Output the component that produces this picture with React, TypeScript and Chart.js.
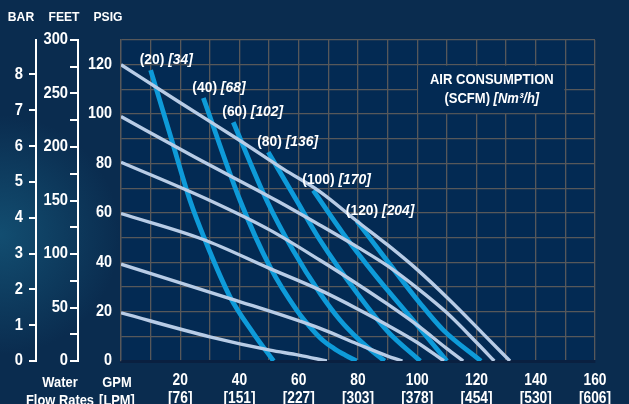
import React, { useEffect, useRef } from "react";
import { Chart, registerables } from "chart.js";
Chart.register(...registerables);

const FONT = "'Liberation Sans', Arial, sans-serif";

// ---- axes ----
const gpmMax = 160;
const psigMax = 130;
const feetMax = 300;
const barMax = 130 / 14.5038;
const gpmTicks = [20, 40, 60, 80, 100, 120, 140, 160];
const lpmTicks = [76, 151, 227, 303, 378, 454, 530, 606];
const psigTicks = [0, 20, 40, 60, 80, 100, 120];
const feetTicks = [0, 50, 100, 150, 200, 250, 300];
const barTicks = [0, 1, 2, 3, 4, 5, 6, 7, 8];

// ---- discharge pressure curves (air inlet pressure, psig) ----
const l120Flow = [0, 20, 40, 55, 67, 80, 90, 100, 111, 122, 131.3];
const l120Head = [120, 104.6, 89.4, 77.6, 68.7, 56.3, 47, 37, 24.6, 11.3, 0];
const l100Flow = [0, 25, 52.5, 67.2, 80, 90, 100, 110, 120, 126];
const l100Head = [99, 82.5, 65, 55, 46, 38.5, 29.5, 19.5, 7.5, 0];
const l80Flow = [0, 30, 50.3, 67.2, 80, 90, 100, 110, 115.5];
const l80Head = [80.5, 65, 53, 40.8, 31, 23, 14.5, 5, 0];
const l60Flow = [0, 27.8, 50.3, 67.2, 80, 90, 100, 109];
const l60Head = [59.7, 49.2, 37.4, 28.7, 21, 14.5, 7.5, 0];
const l40Flow = [0, 36.8, 67.2, 80, 90, 95];
const l40Head = [39.2, 25.3, 13.2, 6.8, 2, 0];
const l20Flow = [0, 30, 50.3, 60, 69.5];
const l20Head = [19.5, 9.8, 4.4, 2.4, 0];

// ---- air consumption curves (SCFM) ----
const b20Flow = [10, 16.5, 23.3, 28.4, 36.8, 44.7, 51.5];
const b20Head = [117.8, 92, 65, 48.9, 26, 11.2, 0];
const b40Flow = [27.8, 40.2, 50.3, 59.3, 64, 68, 72, 76, 79.5];
const b40Head = [106.5, 65, 38.1, 20.6, 13.5, 8.5, 5, 2.2, 0];
const b60Flow = [37.9, 49.2, 58, 67.2, 74, 80, 85, 89];
const b60Head = [96.7, 65, 45, 27.4, 16.5, 9, 3.8, 0];
const b80Flow = [49.7, 59.3, 67.2, 80, 90, 101];
const b80Head = [84.6, 65, 48.9, 27, 12, 0];
const b100Flow = [64.9, 75, 86.3, 97.6, 110];
const b100Head = [69.1, 51.6, 34, 17.9, 0];
const b120Flow = [79.6, 89.7, 101, 108.8, 121.5];
const b120Head = [56.7, 40.8, 23.3, 12.5, 0];

const scfmLabels = [20, 40, 60, 80, 100, 120];
const nm3Labels = [34, 68, 102, 136, 170, 204];

const lightCurves = [
  [l120Flow, l120Head],
  [l100Flow, l100Head],
  [l80Flow, l80Head],
  [l60Flow, l60Head],
  [l40Flow, l40Head],
  [l20Flow, l20Head],
];
const blueCurves = [
  [b20Flow, b20Head],
  [b40Flow, b40Head],
  [b60Flow, b60Head],
  [b80Flow, b80Head],
  [b100Flow, b100Head],
  [b120Flow, b120Head],
];

const OUTER_BG = "#0a2c4f";
const PLOT_BG = "#032a53";
const GRID = "#57585a";
const LIGHT = "#b8cce6";
const BLUE = "#0e9bd9";
const WHITE = "#ffffff";

type Part = [string, boolean];

function txt(
  ctx: CanvasRenderingContext2D,
  parts: Part[],
  x: number,
  y: number,
  size: number,
  align: "left" | "center" | "right",
  sx: number
) {
  const fonts = parts.map(([, it]) => `${it ? "italic " : ""}bold ${size}px ${FONT}`);
  const widths = parts.map(([t], i) => {
    ctx.font = fonts[i];
    return ctx.measureText(t).width;
  });
  const total = widths.reduce((a, b) => a + b, 0) * sx;
  const start = align === "center" ? x - total / 2 : align === "right" ? x - total : x;
  ctx.save();
  ctx.translate(start, y);
  ctx.scale(sx, 1);
  ctx.textAlign = "left";
  ctx.textBaseline = "middle";
  let cx = 0;
  parts.forEach(([t], i) => {
    ctx.font = fonts[i];
    ctx.fillText(t, cx, 0);
    cx += widths[i];
  });
  ctx.restore();
}

const decor = {
  id: "decor",
  beforeDraw(chart: any) {
    const { ctx, width, height, chartArea: a } = chart;
    ctx.save();
    ctx.fillStyle = OUTER_BG;
    ctx.fillRect(0, 0, width, height);
    const g = ctx.createRadialGradient(0, 235, 0, 0, 235, 120);
    g.addColorStop(0, "rgba(25,105,140,0.55)");
    g.addColorStop(1, "rgba(25,105,140,0)");
    ctx.fillStyle = g;
    ctx.fillRect(0, 0, width, height);
    ctx.fillStyle = PLOT_BG;
    ctx.fillRect(a.left, a.top, a.right - a.left, a.bottom - a.top);
    ctx.restore();
  },
  beforeDatasetsDraw(chart: any) {
    const { ctx } = chart;
    const xs = chart.scales.x;
    const ys = chart.scales.y;
    const l = xs.getPixelForValue(100);
    const r = xs.getPixelForValue(150);
    const t = ys.getPixelForValue(120);
    const b = ys.getPixelForValue(100);
    ctx.save();
    ctx.fillStyle = PLOT_BG;
    ctx.fillRect(l + 1, t + 1, r - l - 2, b - t - 2);
    ctx.fillStyle = WHITE;
    const cx = (l + r) / 2 + 0.5;
    const cy = (t + b) / 2;
    txt(ctx, [["AIR CONSUMPTION", false]], cx, cy - 9, 14, "center", 0.93);
    txt(ctx, [["(SCFM) ", false], ["[Nm\u00b3/h]", true]], cx, cy + 9.5, 14, "center", 0.93);
    ctx.restore();
  },
  afterDatasetsDraw(chart: any) {
    const { ctx } = chart;
    const xs = chart.scales.x;
    const ys = chart.scales.y;
    ctx.save();
    ctx.fillStyle = WHITE;
    blueCurves.forEach(([f, h], i) => {
      const px = xs.getPixelForValue(f[0]);
      const py = ys.getPixelForValue(h[0]);
      txt(ctx, [[`(${scfmLabels[i]})`, false], [` [${nm3Labels[i]}]`, true]], px - 11, py - 10, 14.6, "left", 0.95);
    });
    ctx.restore();
  },
  afterDraw(chart: any) {
    const { ctx } = chart;
    const xs = chart.scales.x;
    const ys = chart.scales.y;
    const fs = chart.scales.feet;
    const bs = chart.scales.bar;
    ctx.save();
    ctx.fillStyle = WHITE;
    // headers
    txt(ctx, [["BAR", false]], 21, 17, 13.5, "center", 0.9);
    txt(ctx, [["FEET", false]], 64, 17, 13.5, "center", 0.9);
    txt(ctx, [["PSIG", false]], 108, 17, 13.5, "center", 0.9);
    // bottom-left captions
    txt(ctx, [["Water", false]], 60, 383, 14, "center", 0.92);
    txt(ctx, [["Flow Rates", false]], 60, 401, 14, "center", 0.92);
    txt(ctx, [["GPM", false]], 117, 383, 14, "center", 0.92);
    txt(ctx, [["[LPM]", false]], 117, 401, 14, "center", 0.92);
    // x tick labels
    gpmTicks.forEach((g, i) => {
      const px = xs.getPixelForValue(g);
      txt(ctx, [[String(g), false]], px, 381, 16, "center", 0.86);
      txt(ctx, [[`[${lpmTicks[i]}]`, false]], px, 399, 16, "center", 0.86);
    });
    // PSIG labels
    psigTicks.forEach((p) => {
      txt(ctx, [[String(p), false]], ys.right - 9, ys.getPixelForValue(p), 16, "right", 0.9);
    });
    // FEET labels
    feetTicks.forEach((f) => {
      txt(ctx, [[String(f), false]], fs.right - 10, fs.getPixelForValue(f), 16, "right", 0.92);
    });
    // BAR labels
    barTicks.forEach((b) => {
      txt(ctx, [[String(b), false]], bs.right - 13, bs.getPixelForValue(b), 16, "right", 0.92);
    });
    ctx.restore();
  },
};

export default function App() {
  const ref = useRef<HTMLCanvasElement | null>(null);
  useEffect(() => {
    if (!ref.current) return;
    const datasets: any[] = [];
    lightCurves.forEach(([f, h]) => {
      datasets.push({
        data: f.map((x, i) => ({ x, y: h[i] })),
        borderColor: LIGHT,
        borderWidth: 3.4,
        pointRadius: 0,
        cubicInterpolationMode: "monotone",
        xAxisID: "x",
        yAxisID: "y",
      });
    });
    blueCurves.forEach(([f, h]) => {
      datasets.push({
        data: f.map((x, i) => ({ x, y: h[i] })),
        borderColor: BLUE,
        borderWidth: 4.8,
        pointRadius: 0,
        cubicInterpolationMode: "monotone",
        xAxisID: "x",
        yAxisID: "y",
      });
    });
    const chart = new Chart(ref.current, {
      type: "line",
      data: { datasets },
      plugins: [decor],
      options: {
        animation: false,
        responsive: false,
        devicePixelRatio: 1,
        layout: { padding: { top: 40, right: 34, bottom: 0, left: 0 } },
        plugins: { legend: { display: false }, tooltip: { enabled: false } },
        scales: {
          x: {
            type: "linear",
            position: "bottom",
            min: 0,
            max: gpmMax,
            afterFit: (s: any) => { s.height = 43; },
            ticks: { stepSize: 10, autoSkip: false, display: false },
            grid: { color: GRID, lineWidth: 1.3, drawTicks: false },
            border: { color: "#0a2040", width: 3 },
          },
          y: {
            type: "linear",
            position: "left",
            weight: 0,
            min: 0,
            max: psigMax,
            afterFit: (s: any) => { s.width = 43; },
            ticks: { stepSize: 10, autoSkip: false, display: false },
            grid: { color: GRID, lineWidth: 1.3, drawTicks: false },
            border: { color: GRID, width: 1.3 },
          },
          feet: {
            type: "linear",
            position: "left",
            weight: 1,
            min: 0,
            max: feetMax,
            afterFit: (s: any) => { s.width = 42; },
            ticks: { stepSize: 25, autoSkip: false, display: false },
            grid: { drawOnChartArea: false, drawTicks: true, tickLength: 8, color: WHITE, lineWidth: 2 },
            border: { color: WHITE, width: 2 },
          },
          bar: {
            type: "linear",
            position: "left",
            weight: 2,
            min: 0,
            max: barMax,
            afterFit: (s: any) => { s.width = 36; },
            afterBuildTicks: (s: any) => {
              s.ticks = s.ticks.filter((t: any) => barTicks.includes(t.value));
            },
            ticks: { stepSize: 1, autoSkip: false, display: false },
            grid: { drawOnChartArea: false, drawTicks: true, tickLength: 7, color: WHITE, lineWidth: 2 },
            border: { color: WHITE, width: 2 },
          },
        },
      } as any,
    });
    return () => chart.destroy();
  }, []);
  return (
    <div style={{ position: "fixed", left: 0, top: 0, width: 629, height: 404, background: OUTER_BG }}>
      <canvas ref={ref} width={629} height={404} style={{ display: "block" }} />
    </div>
  );
}
